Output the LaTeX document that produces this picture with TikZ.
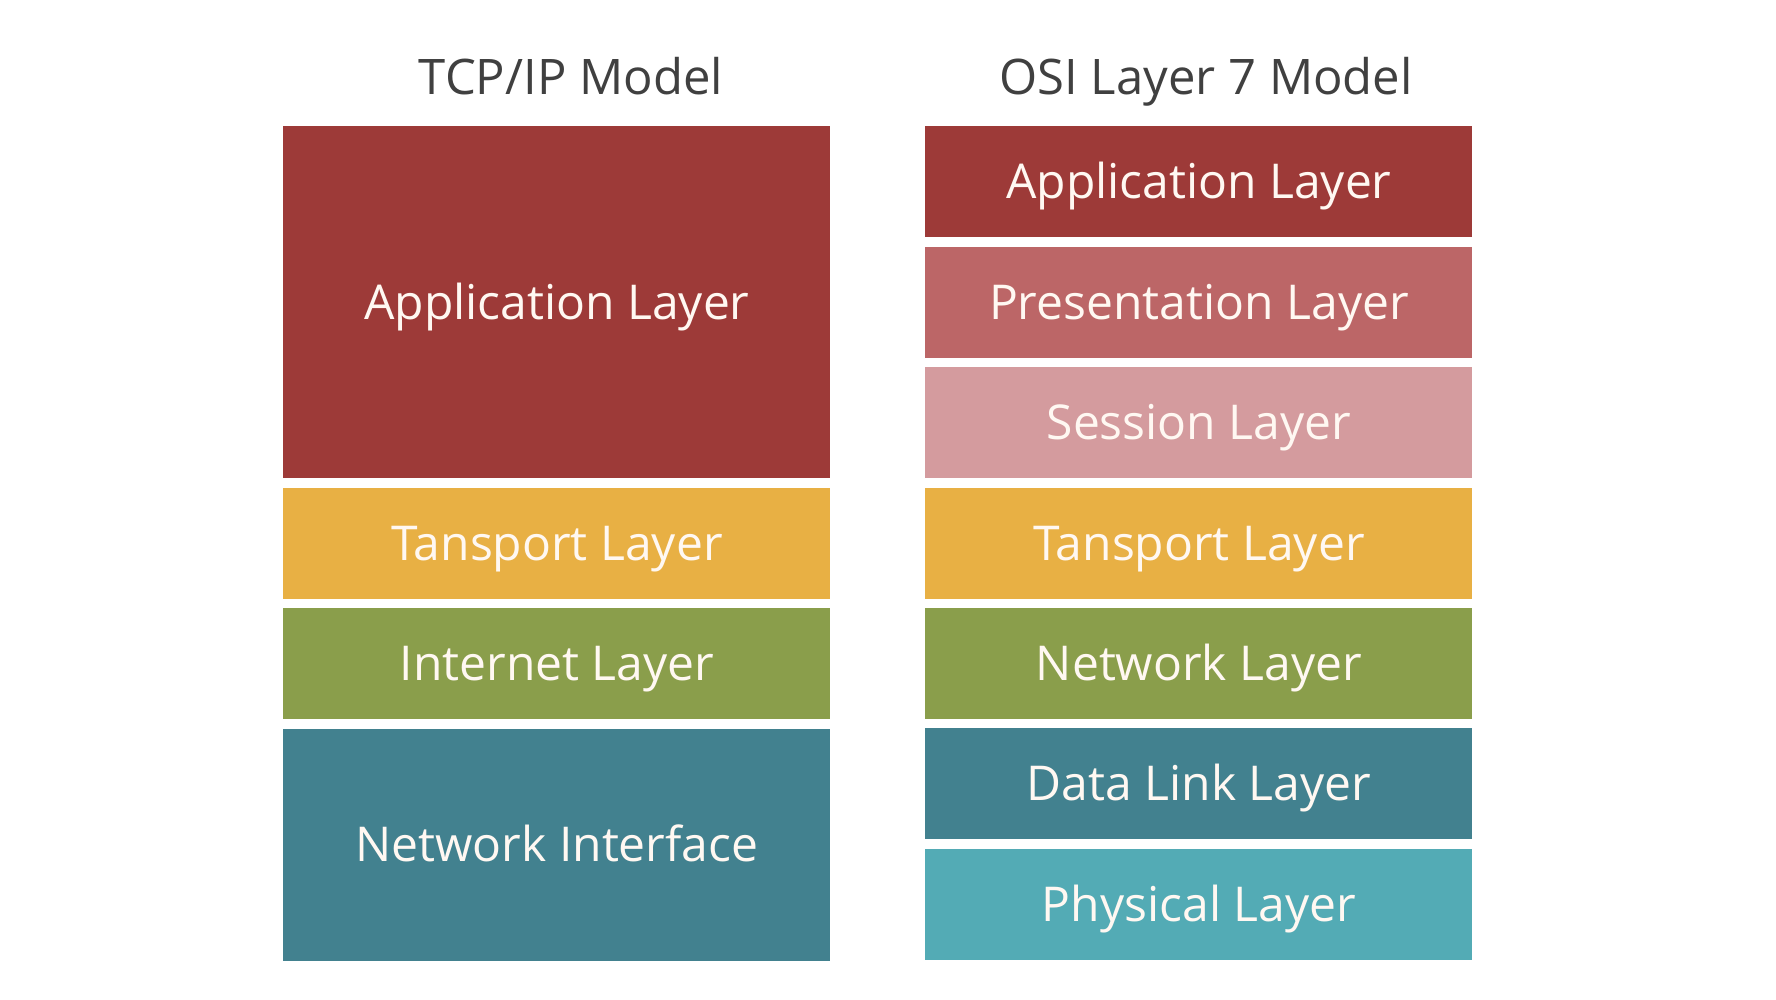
\documentclass[tikz,border=0pt]{standalone}
\usepackage{fontspec}
\setmainfont{Open Sans}
\usetikzlibrary{positioning}

\definecolor{appred}{HTML}{9D3A38}
\definecolor{presred}{HTML}{BC6667}
\definecolor{sessred}{HTML}{D49B9E}
\definecolor{transyellow}{HTML}{E8B044}
\definecolor{netgreen}{HTML}{8A9E4B}
\definecolor{linkteal}{HTML}{42818F}
\definecolor{physteal}{HTML}{53ABB5}
\definecolor{titlegray}{HTML}{404040}
\definecolor{layertext}{HTML}{FFF8F2}

\begin{document}
\begin{tikzpicture}[x=0.5pt, y=-0.5pt, node distance=4.3pt]

% --- Global TikZ Styles ---
\tikzset{
    layer/.style={
        rectangle,
        fill=#1,
        text=layertext,
        inner sep=0pt,
        minimum width=273.5pt,
        minimum height=55.5pt,
        text height=17pt,
        text depth=0pt,
        font=\fontsize{24}{28}\selectfont
    },
    modeltitle/.style={
        text=titlegray,
        inner sep=0pt,
        anchor=base,
        font=\fontsize{24.5}{29}\selectfont
    }
}

% --- Canvas ---
\useasboundingbox[fill=white] (0,0) rectangle (1776,1000);

% =========================================================================
% --- Links: TCP/IP ---
% =========================================================================
\node[modeltitle] (tcptitle) at (571,95) {TCP/IP Model};

\node[layer=appred, minimum height=176pt, anchor=north west]
    (tcpapp) at (283,126) {Application Layer};
\node[layer=transyellow, below=of tcpapp] (tcptrans) {Tansport Layer};
\node[layer=netgreen, below=of tcptrans] (tcpinet) {Internet Layer};
\node[layer=linkteal, minimum height=116pt, below=of tcpinet]
    (tcpnetif) {Network Interface};

% =========================================================================
% --- Rechts: OSI ---
% =========================================================================
\node[modeltitle] (osititle) at (1206,95) {OSI Layer 7 Model};

\node[layer=appred, anchor=north west] (osiapp) at (925,126) {Application Layer};
\node[layer=presred, below=of osiapp] (osipres) {Presentation Layer};
\node[layer=sessred, below=of osipres] (osisess) {Session Layer};
\node[layer=transyellow, below=of osisess] (ositrans) {Tansport Layer};
\node[layer=netgreen, below=of ositrans] (osinet) {Network Layer};
\node[layer=linkteal, below=of osinet] (osilink) {Data Link Layer};
\node[layer=physteal, below=of osilink] (osiphys) {Physical Layer};

\end{tikzpicture}
\end{document}
